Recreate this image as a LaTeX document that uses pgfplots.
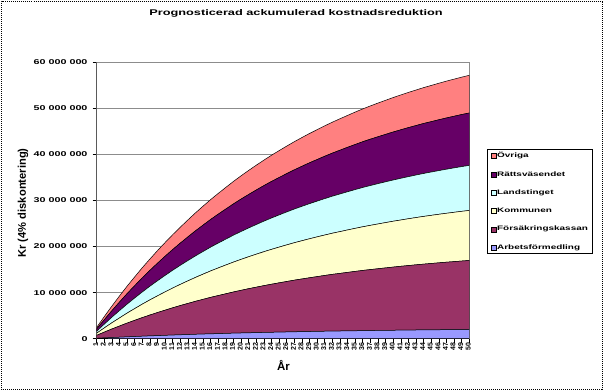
\documentclass[border=0pt]{standalone}
\usepackage{fontspec}
\setmainfont{Liberation Sans}
\usepackage{graphicx}
\usepackage{pgfplots}
\pgfplotsset{compat=1.18}
\usepackage{pgfplotstable}

\definecolor{cArb}{HTML}{9999FF}
\definecolor{cFor}{HTML}{993366}
\definecolor{cKom}{HTML}{FFFFCC}
\definecolor{cLan}{HTML}{CCFFFF}
\definecolor{cRat}{HTML}{660066}
\definecolor{cOvr}{HTML}{FF8080}
\definecolor{cGrid}{HTML}{8C8C8C}

\newcommand{\vs}[1]{\scalebox{1}[0.65]{#1}}

% values in millions of kronor
\pgfplotstableread{
ar Arb Fors Komm Land Ratt Ovr
1 0.09 0.64 0.47 0.42 0.49 0.35
2 0.17 1.26 0.91 0.82 0.96 0.69
3 0.25 1.86 1.35 1.21 1.41 1.01
4 0.32 2.43 1.76 1.59 1.85 1.33
5 0.40 2.99 2.17 1.95 2.27 1.63
6 0.47 3.52 2.55 2.30 2.67 1.92
7 0.54 4.04 2.93 2.64 3.07 2.20
8 0.61 4.53 3.29 2.96 3.44 2.47
9 0.67 5.01 3.63 3.27 3.81 2.74
10 0.73 5.47 3.97 3.57 4.16 2.99
11 0.79 5.92 4.29 3.86 4.50 3.23
12 0.85 6.35 4.60 4.14 4.82 3.46
13 0.90 6.76 4.90 4.41 5.13 3.69
14 0.96 7.16 5.19 4.67 5.44 3.91
15 1.01 7.54 5.47 4.92 5.73 4.12
16 1.06 7.92 5.74 5.17 6.01 4.32
17 1.10 8.27 6.00 5.40 6.28 4.51
18 1.15 8.61 6.25 5.62 6.54 4.70
19 1.20 8.95 6.49 5.84 6.80 4.88
20 1.24 9.27 6.72 6.05 7.04 5.06
21 1.28 9.58 6.94 6.25 7.27 5.23
22 1.32 9.87 7.16 6.44 7.50 5.39
23 1.36 10.16 7.37 6.63 7.72 5.54
24 1.39 10.44 7.57 6.81 7.93 5.70
25 1.43 10.70 7.76 6.98 8.13 5.84
26 1.46 10.96 7.95 7.15 8.32 5.98
27 1.50 11.21 8.13 7.31 8.51 6.12
28 1.53 11.44 8.30 7.47 8.69 6.25
29 1.56 11.67 8.47 7.62 8.87 6.37
30 1.59 11.89 8.63 7.76 9.03 6.49
31 1.62 12.11 8.78 7.90 9.20 6.61
32 1.65 12.32 8.93 8.04 9.35 6.72
33 1.67 12.51 9.07 8.17 9.50 6.83
34 1.70 12.70 9.21 8.29 9.65 6.93
35 1.72 12.89 9.35 8.41 9.79 7.04
36 1.75 13.07 9.48 8.53 9.93 7.13
37 1.77 13.24 9.60 8.64 10.06 7.23
38 1.79 13.40 9.72 8.75 10.18 7.32
39 1.81 13.56 9.84 8.85 10.30 7.40
40 1.83 13.72 9.95 8.95 10.42 7.49
41 1.85 13.87 10.05 9.05 10.53 7.57
42 1.87 14.01 10.16 9.14 10.64 7.65
43 1.89 14.15 10.26 9.23 10.74 7.72
44 1.91 14.28 10.36 9.32 10.85 7.79
45 1.92 14.41 10.45 9.40 10.94 7.86
46 1.94 14.53 10.54 9.48 11.04 7.93
47 1.96 14.65 10.62 9.56 11.13 8.00
48 1.97 14.76 10.71 9.64 11.21 8.06
49 1.99 14.87 10.79 9.71 11.30 8.12
50 2.00 14.98 10.86 9.78 11.38 8.18
}\data

\begin{document}
\begin{tikzpicture}[x=1bp,y=1bp]
\useasboundingbox (0,0) rectangle (604,391);
\draw[black, line width=0.9bp, dash pattern=on 1bp off 1bp] (1.5,1.5) rectangle (602.5,389.5);
\node[font=\fontsize{12.8}{13}\selectfont\bfseries] at (296,378) {\vs{Prognosticerad ackumulerad kostnadsreduktion}};
\node[rotate=90, font=\fontsize{11.2}{12}\selectfont\bfseries] at (23,188) {Kr (4\% diskontering)};
\node[font=\fontsize{11.5}{12}\selectfont\bfseries] at (283.5,26) {År};
\begin{axis}[
  at={(96.7bp,52.3bp)}, anchor=south west,
  scale only axis, width=372.6bp, height=276.4bp,
  xmin=1, xmax=50, ymin=0, ymax=60,
  stack plots=y, no markers,
  axis line style={draw=cGrid, line width=0.8bp},
  ymajorgrids, major grid style={draw=cGrid, line width=1bp},
  tick align=outside, ytick pos=left, xtick pos=bottom,
  major tick length=4bp,
  tick style={black, line width=0.7bp},
  ytick={0,10,20,30,40,50,60},
  yticklabels={\vs{0},\vs{10 000 000},\vs{20 000 000},\vs{30 000 000},\vs{40 000 000},\vs{50 000 000},\vs{60 000 000}},
  yticklabel style={font=\fontsize{10.8}{11}\selectfont\bfseries, inner sep=0pt, xshift=-5bp},
  xtick={1,...,50},
  /pgf/number format/assume math mode=true,
  xticklabel style={rotate=90, anchor=east, inner sep=0pt, yshift=1bp, font=\fontsize{7}{7}\selectfont\bfseries},
  reverse legend,
  legend image code/.code={\draw[#1, line width=0.4bp] (0bp,-2.5bp) rectangle (5bp,2.5bp);},
  legend style={at={(1.047,0.685)}, anchor=north west, draw=black, line width=0.8bp, fill=white,
    font=\fontsize{10}{10}\selectfont\bfseries, inner xsep=3.5bp, inner ysep=2bp, row sep=9.8bp,
    nodes={inner sep=1bp, text height=5bp, text depth=1.5bp},
    /tikz/every even column/.append style={column sep=3bp}},
  legend cell align=left,
]
\addplot[fill=cArb, draw=black, line width=0.5bp] table[x=ar, y=Arb]{\data} \closedcycle;
\addlegendentry{\vs{Arbetsförmedling}}
\addplot[fill=cFor, draw=black, line width=0.5bp] table[x=ar, y=Fors]{\data} \closedcycle;
\addlegendentry{\vs{Försäkringskassan}}
\addplot[fill=cKom, draw=black, line width=0.5bp] table[x=ar, y=Komm]{\data} \closedcycle;
\addlegendentry{\vs{Kommunen}}
\addplot[fill=cLan, draw=black, line width=0.5bp] table[x=ar, y=Land]{\data} \closedcycle;
\addlegendentry{\vs{Landstinget}}
\addplot[fill=cRat, draw=black, line width=0.5bp] table[x=ar, y=Ratt]{\data} \closedcycle;
\addlegendentry{\vs{Rättsväsendet}}
\addplot[fill=cOvr, draw=black, line width=0.5bp] table[x=ar, y=Ovr]{\data} \closedcycle;
\addlegendentry{\vs{Övriga}}
\draw[black, line width=0.9bp] (rel axis cs:0,1) -- (rel axis cs:0,0) -- (rel axis cs:1,0);
\end{axis}
\end{tikzpicture}
\end{document}
